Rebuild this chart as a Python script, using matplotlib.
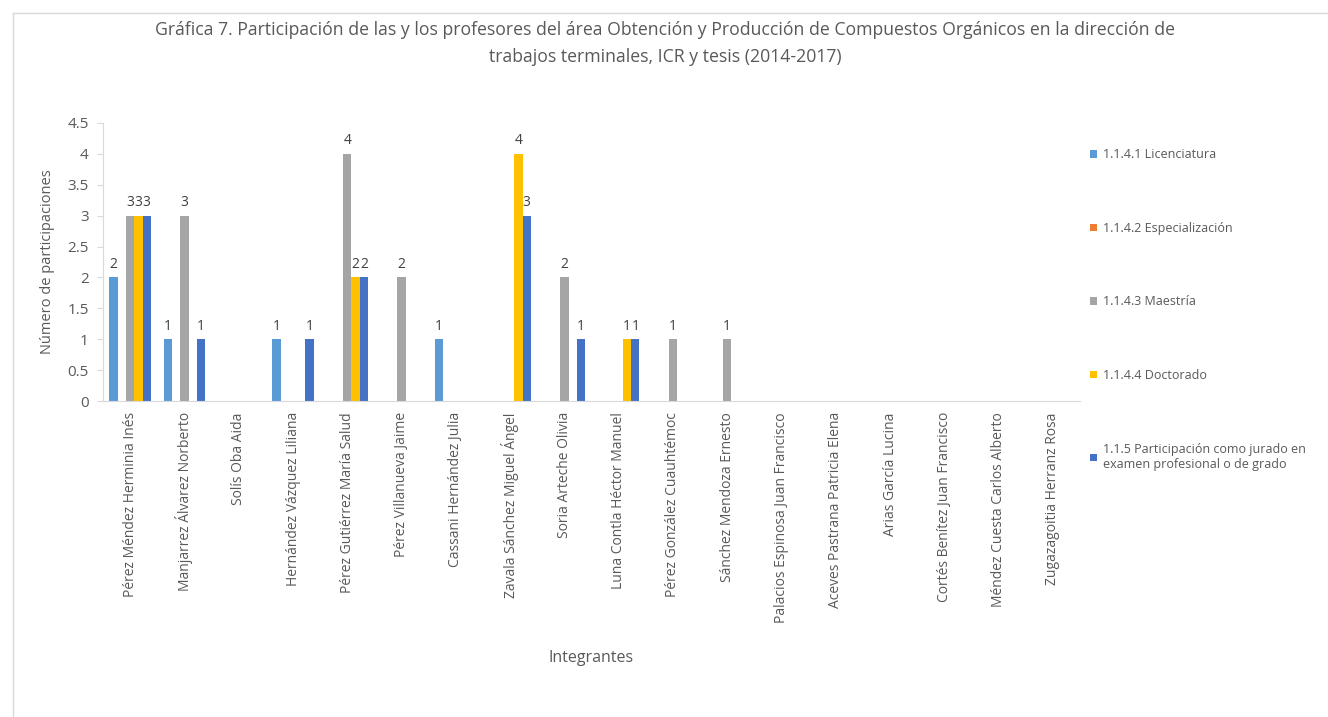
import numpy as np
import matplotlib
matplotlib.use("Agg")
import matplotlib.pyplot as plt
from matplotlib.lines import Line2D
from matplotlib.patches import Patch

plt.rcParams['font.family'] = ['Open Sans', 'DejaVu Sans']

# Integrantes del área
integrantes = [
    "Pérez Méndez Herminia Inés", "Manjarrez Álvarez Norberto", "Solís Oba Aida",
    "Hernández Vázquez Liliana", "Pérez Gutiérrez María Salud", "Pérez Villanueva Jaime",
    "Cassani Hernández Julia", "Zavala Sánchez Miguel Ángel", "Soria Arteche Olivia",
    "Luna Contla Héctor Manuel", "Pérez González Cuauhtémoc", "Sánchez Mendoza Ernesto",
    "Palacios Espinosa Juan Francisco", "Aceves Pastrana Patricia Elena", "Arias García Lucina",
    "Cortés Benítez Juan Francisco", "Méndez Cuesta Carlos Alberto", "Zugazagoitia Herranz Rosa",
]

series_names = [
    "1.1.4.1 Licenciatura",
    "1.1.4.2 Especialización",
    "1.1.4.3 Maestría",
    "1.1.4.4 Doctorado",
    "1.1.5 Participación como jurado en\nexamen profesional o de grado",
]

licenciatura   = [2, 1, 0, 1, 0, 0, 1, 0, 0, 0, 0, 0, 0, 0, 0, 0, 0, 0]
especializacion = [0, 0, 0, 0, 0, 0, 0, 0, 0, 0, 0, 0, 0, 0, 0, 0, 0, 0]
maestria       = [3, 3, 0, 0, 4, 2, 0, 0, 2, 0, 1, 1, 0, 0, 0, 0, 0, 0]
doctorado      = [3, 0, 0, 0, 2, 0, 0, 4, 0, 1, 0, 0, 0, 0, 0, 0, 0, 0]
jurado         = [3, 1, 0, 1, 2, 0, 0, 3, 1, 1, 0, 0, 0, 0, 0, 0, 0, 0]

colors = ["#5B9BD5", "#ED7D31", "#A5A5A5", "#FFC000", "#4472C4"]

txt = "#595959"

fig = plt.figure(figsize=(13.28, 7.17), dpi=100)
ax = fig.add_axes([0.0776, 0.4407, 0.7357, 0.3878])

x = np.arange(len(integrantes))
w = 0.153
all_series = [licenciatura, especializacion, maestria, doctorado, jurado]
for i, (vals, c) in enumerate(zip(all_series, colors)):
    bars = ax.bar(x + (i - 2) * w, vals, w, color=c, label=series_names[i])
    labels = [str(v) if v else "" for v in vals]
    ax.bar_label(bars, labels=labels, padding=4, fontsize=10, color="#404040")

ax.set_xlim(-0.5, len(integrantes) - 0.5)
ax.set_ylim(0, 4.5)
ax.set_yticks(np.arange(0, 4.51, 0.5))
ax.set_yticklabels(["0", "0.5", "1", "1.5", "2", "2.5", "3", "3.5", "4", "4.5"])
ax.set_xticks(x)
ax.set_xticklabels(integrantes, rotation=90, fontsize=10, color=txt)
ax.tick_params(axis='y', labelsize=11, colors="#D9D9D9", labelcolor=txt, length=4.3, pad=6)
ax.tick_params(axis='x', length=0, pad=8)

for s in ["top", "right"]:
    ax.spines[s].set_visible(False)
ax.spines["left"].set_color("#D9D9D9")
ax.spines["bottom"].set_color("#D9D9D9")

ax.set_ylabel("Número de participaciones", fontsize=10.5, color=txt)
ax.yaxis.set_label_coords(-0.0495, 0.5)
fig.text(0.445, 0.082, "Integrantes", ha="center", va="center", fontsize=11.5, color=txt)

fig.text(0.501, 0.958, "Gráfica 7. Participación de las y los profesores del área Obtención y Producción de Compuestos Orgánicos en la dirección de",
         ha="center", va="center", fontsize=12.7, color=txt)
fig.text(0.501, 0.920, "trabajos terminales, ICR y tesis (2014-2017)",
         ha="center", va="center", fontsize=12.7, color=txt)

handles = [Patch(facecolor=c) for c in colors]
leg = fig.legend(handles, series_names, loc="upper left", bbox_to_anchor=(0.8122, 0.809),
                 frameon=False, fontsize=9, labelspacing=4.85, handlelength=0.55,
                 handleheight=0.55, handletextpad=0.5, labelcolor=txt)

# marco del gráfico
fig.add_artist(Line2D([0.0098, 1.0], [0.9819, 0.9819], color="#D9D9D9", lw=1))
fig.add_artist(Line2D([0.0098, 0.0098], [0.0, 0.9819], color="#D9D9D9", lw=1))

fig.savefig("out.png", dpi=100, facecolor="white")
